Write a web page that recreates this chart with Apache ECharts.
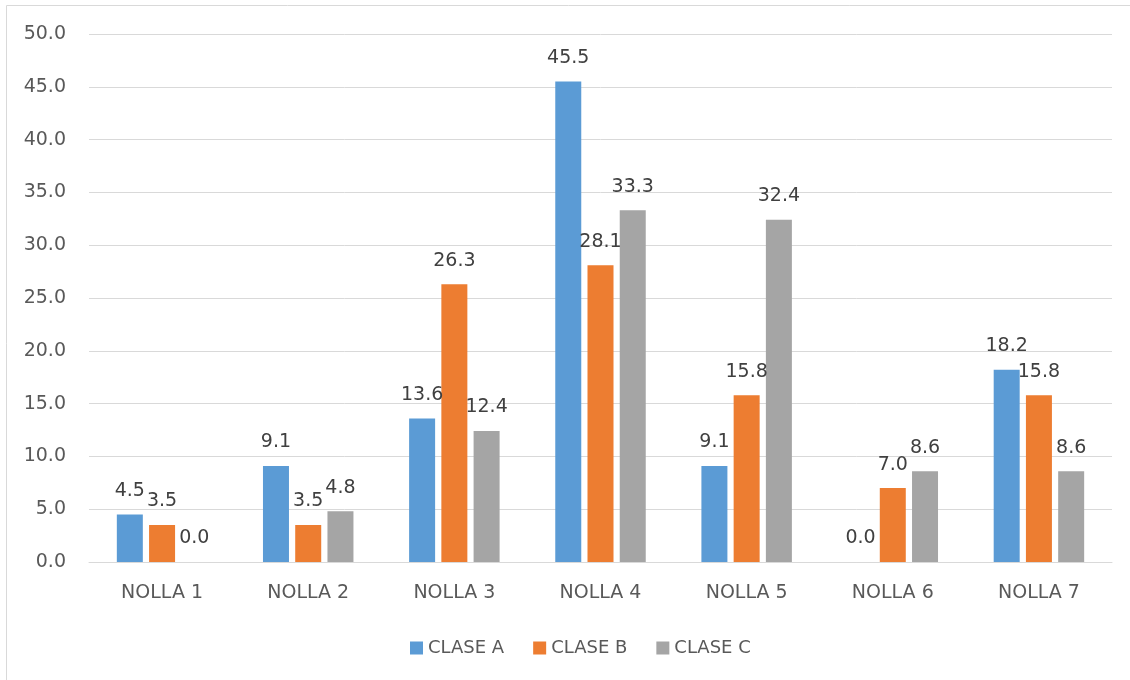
<!DOCTYPE html>
<html>
<head>
<meta charset="utf-8">
<script src="https://cdn.jsdelivr.net/npm/echarts@6/dist/echarts.min.js"></script>
<style>
  html, body { margin: 0; padding: 0; background: #ffffff; }
  #chart { width: 1130px; height: 680px; }
</style>
</head>
<body>
<div id="chart"></div>
<script>
// Categories and series values
const categories = ['NOLLA 1', 'NOLLA 2', 'NOLLA 3', 'NOLLA 4', 'NOLLA 5', 'NOLLA 6', 'NOLLA 7'];
const claseA = [4.5, 9.1, 13.6, 45.5, 9.1, 0.0, 18.2];
const claseB = [3.5, 3.5, 26.3, 28.1, 15.8, 7.0, 15.8];
const claseC = [0.0, 4.8, 12.4, 33.3, 32.4, 8.6, 8.6];
const seriesNames = ['CLASE A', 'CLASE B', 'CLASE C'];
const colors = ['#5B9BD5', '#ED7D31', '#A5A5A5'];

const FONT = 'DejaVu Sans';

const chart = echarts.init(document.getElementById('chart'), null, { renderer: 'canvas' });

function makeSeries(name, data, color) {
  return {
    name: name,
    type: 'bar',
    data: data,
    barWidth: 26,
    barGap: '24%',
    itemStyle: { color: color },
    label: {
      show: true,
      position: 'top',
      distance: 14,
      color: '#404040',
      fontFamily: FONT,
      fontSize: 19,
      formatter: p => p.value.toFixed(1)
    },
    emphasis: { disabled: true }
  };
}

chart.setOption({
  animation: false,
  color: colors,
  graphic: [{
    type: 'rect',
    shape: { x: 6.5, y: 5.5, width: 1300, height: 900 },
    style: { fill: 'none', stroke: '#d9d9d9', lineWidth: 1 },
    silent: true
  }],
  grid: { left: 89, right: 18, top: 34, bottom: 118, containLabel: false },
  legend: {
    data: seriesNames,
    left: 405,
    top: 634,
    itemWidth: 13,
    itemHeight: 13,
    itemGap: 29,
    icon: 'rect',
    textStyle: { color: '#595959', fontFamily: FONT, fontSize: 18 }
  },
  xAxis: {
    type: 'category',
    data: categories,
    axisLine: { show: true, lineStyle: { color: '#d9d9d9', width: 1 } },
    axisTick: { show: false },
    axisLabel: { color: '#595959', fontFamily: FONT, fontSize: 19, margin: 22 }
  },
  yAxis: {
    type: 'value',
    min: 0,
    max: 50,
    interval: 5,
    axisLine: { show: false },
    axisTick: { show: false },
    splitLine: { lineStyle: { color: '#d9d9d9', width: 1 } },
    axisLabel: {
      color: '#595959', fontFamily: FONT, fontSize: 19, margin: 23,
      padding: [8, 0, 0, 0],
      formatter: v => v.toFixed(1)
    }
  },
  series: [
    makeSeries(seriesNames[0], claseA, colors[0]),
    makeSeries(seriesNames[1], claseB, colors[1]),
    makeSeries(seriesNames[2], claseC, colors[2])
  ]
});
</script>
</body>
</html>
